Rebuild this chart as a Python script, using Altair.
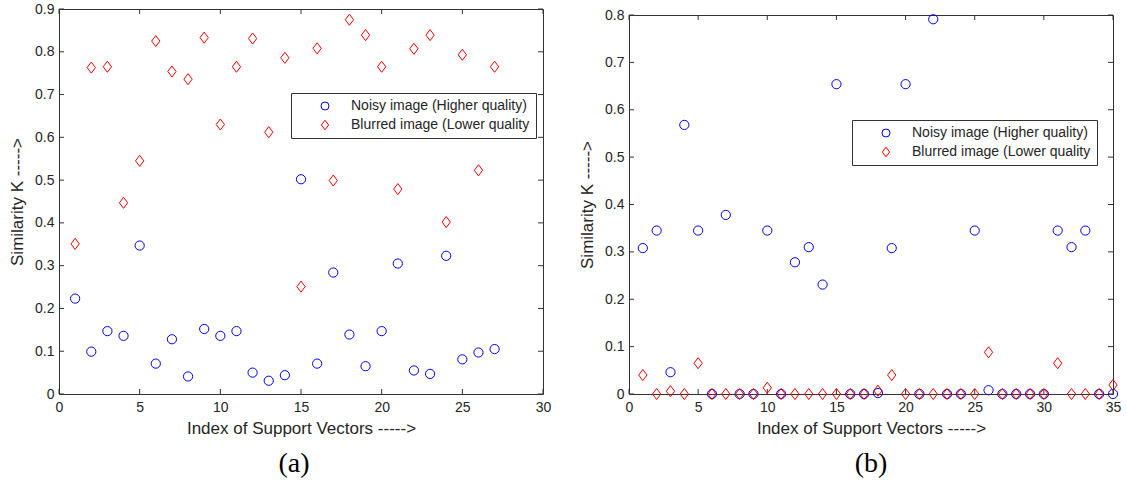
import altair as alt
import pandas as pd

# ---------------- data ----------------
series_names = ["Noisy image (Higher quality)", "Blurred image (Lower quality"]

left_index = list(range(1, 28))
left_noisy = [0.223, 0.099, 0.147, 0.136, 0.347, 0.071, 0.128, 0.041, 0.152, 0.136,
              0.147, 0.050, 0.031, 0.044, 0.502, 0.071, 0.284, 0.139, 0.065, 0.147,
              0.305, 0.055, 0.047, 0.323, 0.081, 0.097, 0.105]
left_blurred = [0.351, 0.763, 0.765, 0.447, 0.545, 0.825, 0.754, 0.736, 0.833, 0.630,
                0.765, 0.831, 0.612, 0.786, 0.251, 0.808, 0.499, 0.875, 0.839, 0.765,
                0.479, 0.807, 0.839, 0.402, 0.793, 0.523, 0.765]

right_index = list(range(1, 36))
right_noisy = [0.308, 0.345, 0.046, 0.568, 0.345, 0.0, 0.378, 0.0, 0.0, 0.345,
               0.0, 0.278, 0.310, 0.231, 0.654, 0.0, 0.0, 0.002, 0.308, 0.654,
               0.0, 0.791, 0.0, 0.0, 0.345, 0.008, 0.0, 0.0, 0.0, 0.0,
               0.345, 0.310, 0.345, 0.0, 0.0]
right_blurred = [0.040, 0.0, 0.006, 0.0, 0.065, 0.0, 0.0, 0.0, 0.0, 0.013,
                 0.0, 0.0, 0.0, 0.0, 0.0, 0.0, 0.0, 0.007, 0.040, 0.0,
                 0.0, 0.0, 0.0, 0.0, 0.0, 0.088, 0.0, 0.0, 0.0, 0.0,
                 0.065, 0.0, 0.0, 0.0, 0.019]

left_xticks = [0, 5, 10, 15, 20, 25, 30]
left_yticks = [0, 0.1, 0.2, 0.3, 0.4, 0.5, 0.6, 0.7, 0.8, 0.9]
right_xticks = [0, 5, 10, 15, 20, 25, 30, 35]
right_yticks = [0, 0.1, 0.2, 0.3, 0.4, 0.5, 0.6, 0.7, 0.8]

x_title = "Index of Support Vectors ----->"
y_title = "Similarity K ----->"
captions = ["(a)", "(b)"]

# ---------------- styling ----------------
TEXT = "#262626"
FRAME = "#333333"
SANS = "Liberation Sans"
SERIF = "Liberation Serif"
DIAMOND = "M0,-1.2L0.9,0L0,1.2L-0.9,0Z"
TICK = 5


def make_panel(idx, noisy, blurred, xticks, yticks, W, H, lx, ly, caption, cdx):
    n = len(idx)
    df = pd.DataFrame({
        "idx": idx + idx,
        "val": noisy + blurred,
        "series": [series_names[0]] * n + [series_names[1]] * n,
    })
    xs = alt.Scale(domain=[xticks[0], xticks[-1]], nice=False, zero=False)
    ys = alt.Scale(domain=[yticks[0], yticks[-1]], nice=False, zero=False)
    xaxis = alt.Axis(values=xticks, title=x_title, ticks=False, tickSize=0, domain=False,
                     grid=False, labelPadding=6, labelFont=SANS, labelFontSize=14,
                     labelColor=TEXT, labelFlush=False, titleFont=SANS, titleFontSize=17,
                     titleFontWeight="normal", titleColor=TEXT, titlePadding=6)
    yaxis = alt.Axis(values=yticks, format="~g", title=y_title, ticks=False, tickSize=0,
                     domain=False, grid=False, labelPadding=5, labelFont=SANS,
                     labelFontSize=14, labelColor=TEXT, labelFlush=False, titleFont=SANS,
                     titleFontSize=17, titleFontWeight="normal", titleColor=TEXT,
                     titlePadding=8)
    legend = alt.Legend(orient="none", legendX=lx, legendY=ly, padding=6, symbolOffset=21,
                        labelOffset=19, rowPadding=5, labelFont=SANS, labelFontSize=14,
                        labelColor=TEXT, strokeColor=FRAME, fillColor="white",
                        symbolSize=64, symbolStrokeWidth=1, labelLimit=500)
    points = alt.Chart(df).mark_point(filled=False, strokeWidth=1, size=85, opacity=1).encode(
        x=alt.X("idx:Q", scale=xs, axis=xaxis),
        y=alt.Y("val:Q", scale=ys, axis=yaxis),
        color=alt.Color("series:N", title=None,
                        scale=alt.Scale(domain=series_names, range=["#0000ff", "#ff0000"]),
                        legend=legend),
        shape=alt.Shape("series:N", title=None,
                        scale=alt.Scale(domain=series_names, range=["circle", DIAMOND]),
                        legend=legend),
    )
    xt = pd.DataFrame({"t": xticks})
    yt = pd.DataFrame({"v": yticks})
    bottom = alt.Chart(xt).mark_rule(color=FRAME, strokeWidth=1).encode(
        x=alt.X("t:Q", scale=xs, axis=xaxis), y=alt.value(H), y2=alt.value(H - TICK))
    top = alt.Chart(xt).mark_rule(color=FRAME, strokeWidth=1).encode(
        x=alt.X("t:Q", scale=xs, axis=xaxis), y=alt.value(0), y2=alt.value(TICK))
    left = alt.Chart(yt).mark_rule(color=FRAME, strokeWidth=1).encode(
        y=alt.Y("v:Q", scale=ys, axis=yaxis), x=alt.value(0), x2=alt.value(TICK))
    right = alt.Chart(yt).mark_rule(color=FRAME, strokeWidth=1).encode(
        y=alt.Y("v:Q", scale=ys, axis=yaxis), x=alt.value(W), x2=alt.value(W - TICK))
    return alt.layer(bottom, top, left, right, points).properties(
        width=W, height=H,
        title=alt.TitleParams(text=caption, orient="bottom", anchor="middle", frame="group",
                              font=SERIF, fontSize=28, fontWeight="normal", color="black",
                              dx=cdx, offset=14),
    )


panel_a = make_panel(left_index, left_noisy, left_blurred, left_xticks, left_yticks,
                     484, 385, 232, 84, captions[0], -7)
panel_b = make_panel(right_index, right_noisy, right_blurred, right_xticks, right_yticks,
                     484, 379, 223, 105, captions[1], 0)

spacer = alt.Chart(pd.DataFrame({"a": [0]})).mark_point(opacity=0).encode(
    x=alt.value(0), y=alt.value(0)
).properties(width=484, height=1, view=alt.ViewBackground(strokeOpacity=0))

right_col = alt.vconcat(spacer, panel_b, spacing=5, bounds="flush").resolve_scale(
    color="independent", shape="independent")

chart = alt.hconcat(panel_a, right_col, spacing=86, bounds="flush").resolve_scale(
    color="independent", shape="independent"
).properties(
    padding={"left": 8, "top": 1, "right": 5, "bottom": 5},
    background="white",
).configure_view(stroke=FRAME, strokeWidth=1)

chart.save("out.html", embed_options={"renderer": "svg", "actions": False})
